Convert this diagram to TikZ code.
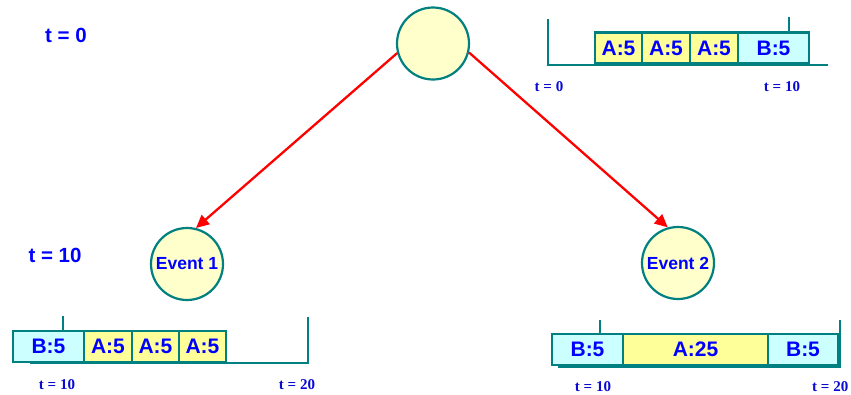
\documentclass[tikz,border=0pt]{standalone}
\usepackage{fontspec}
\setmainfont{Liberation Serif}
\newfontfamily\arialf{Liberation Sans}
\usetikzlibrary{arrows.meta}
\definecolor{tealc}{RGB}{0,128,128}
\definecolor{circfill}{RGB}{255,255,204}
\definecolor{afill}{RGB}{255,255,153}
\definecolor{bfill}{RGB}{204,255,255}
\definecolor{txtblue}{RGB}{0,0,255}
\definecolor{lblblue}{RGB}{10,10,210}
\begin{document}
\begin{tikzpicture}[x=1pt,y=-1pt,
  evt/.style={circle,draw=tealc,line width=2.2pt,fill=circfill,minimum size=72pt,inner sep=0pt,
    font=\arialf\bfseries\fontsize{17.5}{19}\selectfont,text=txtblue},
  abox/.style={draw=tealc,line width=2.2pt,fill=afill,minimum height=31pt,inner sep=0pt,
    font=\arialf\bfseries\fontsize{21}{23}\selectfont,text=txtblue},
  bbox/.style={abox,fill=bfill},
  tline/.style={draw=tealc,line width=2.2pt},
  tlbl/.style={font=\bfseries\fontsize{15}{17}\selectfont,text=lblblue,inner sep=0pt},
  biglbl/.style={font=\arialf\bfseries\fontsize{20.5}{22}\selectfont,text=txtblue,inner sep=0pt},
  arr/.style={draw=red,line width=2.3pt,-{Triangle[length=13pt,width=12pt]}}]
\useasboundingbox (0,0) rectangle (851,394);

% top-level labels
\node[biglbl] (t0) at (66,35) {t = 0};
\node[biglbl] (t10) at (55,255) {t = 10};

% circles
\node[evt] (root) at (433,43.5) {};
\node[evt] (e1) at (187,264) {Event 1};
\node[evt] (e2) at (678,263) {Event 2};

\draw[arr] (root.195) -- (e1.76);
\draw[arr] (root.346) -- (e2.106);

% top-right timeline
\coordinate (ta) at (548,19);
\coordinate (tb) at (548,65);
\coordinate (tc) at (828,65);
\draw[tline] (ta) -- (tb) -- (tc);
\draw[tline] (789,17) -- (789,33);
\node[abox,minimum width=47pt] (ta1) at (618.5,48) {A:5};
\node[abox,minimum width=48pt] (ta2) at (666,48) {A:5};
\node[abox,minimum width=48pt] (ta3) at (714,48) {A:5};
\node[bbox,minimum width=71pt] (tb1) at (773.5,48) {B:5};
\node[tlbl] (tl0) at (549,87) {t = 0};
\node[tlbl] (tl10) at (782,87) {t = 10};

% bottom-left timeline
\draw[tline] (30,363) -- (308,363) -- (308,317);
\draw[tline] (63,316) -- (63,332);
\node[bbox,minimum width=71pt] (lb1) at (48.5,346.5) {B:5};
\node[abox,minimum width=48pt] (la1) at (108,346.5) {A:5};
\node[abox,minimum width=47pt] (la2) at (155.5,346.5) {A:5};
\node[abox,minimum width=47pt] (la3) at (202.5,346.5) {A:5};
\node[tlbl] (ll10) at (57,385) {t = 10};
\node[tlbl] (ll20) at (297,385) {t = 20};

% bottom-right timeline
\draw[tline] (558,367) -- (840,367) -- (840,320);
\draw[tline] (600,320) -- (600,335);
\node[bbox,minimum width=71pt] (rb1) at (587.5,349.5) {B:5};
\node[abox,minimum width=145pt] (ra1) at (695.5,349.5) {A:25};
\node[bbox,minimum width=70pt] (rb2) at (803,349.5) {B:5};
\node[tlbl] (rl10) at (593,387) {t = 10};
\node[tlbl,anchor=west] (rl20) at (812,387) {t = 20};
\end{tikzpicture}
\end{document}
